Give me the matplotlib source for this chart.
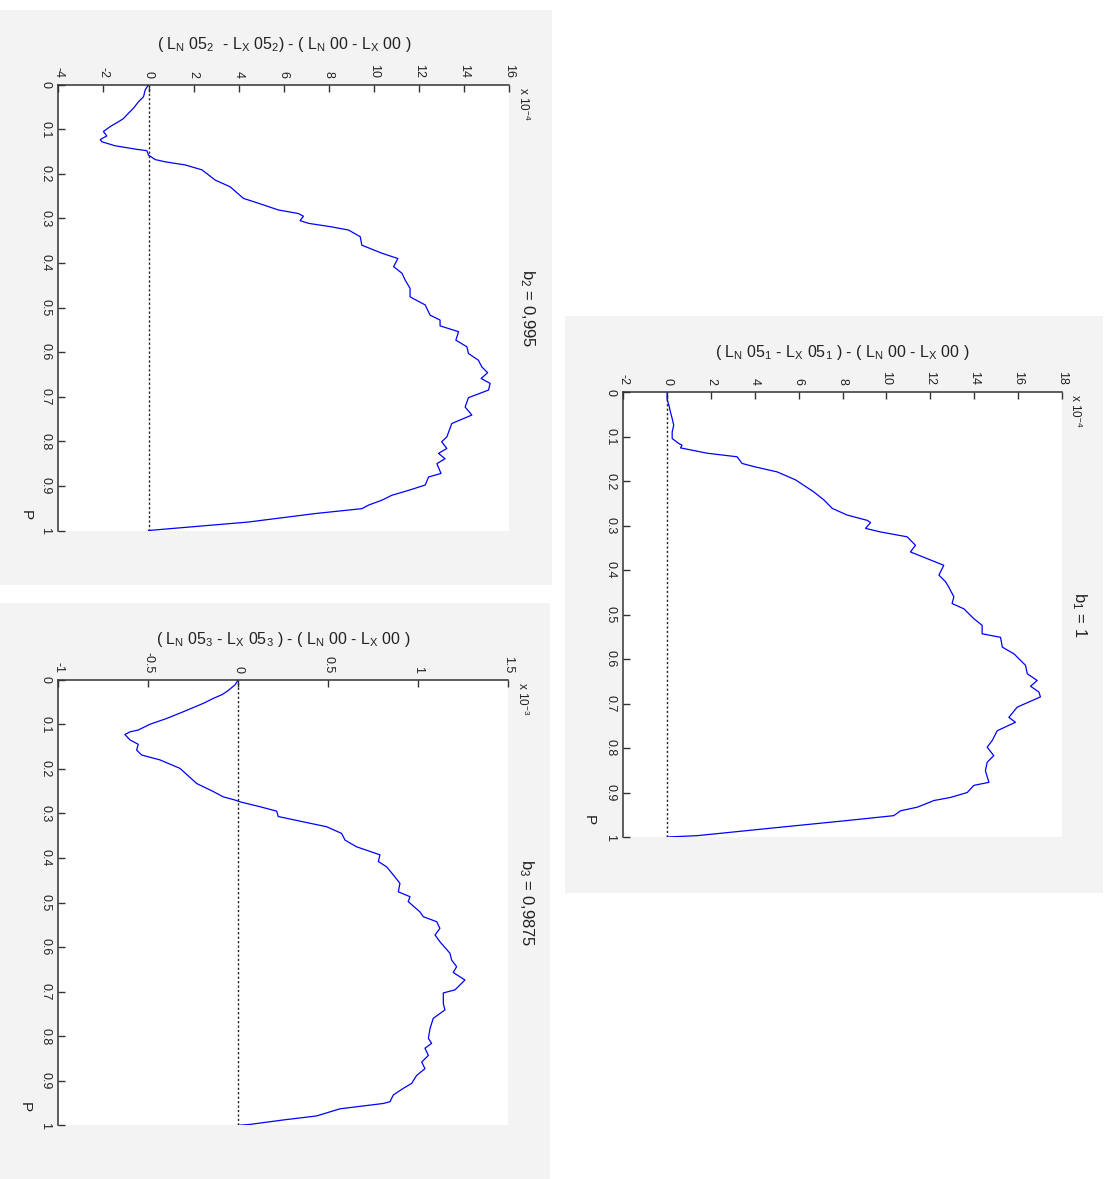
import matplotlib
matplotlib.use("Agg")
import matplotlib.pyplot as plt
from matplotlib.patches import Rectangle

plt.rcParams['font.family'] = ['Liberation Sans', 'DejaVu Sans']
plt.rcParams['axes.unicode_minus'] = False
plt.rcParams['mathtext.fontset'] = 'custom'
plt.rcParams['mathtext.rm'] = 'Liberation Sans'
plt.rcParams['mathtext.it'] = 'Liberation Sans'

# ---- data: P on one axis, score difference on the other ----
# b1 = 1  (values in units of 1e-4)
p_b1 = [0.0, 0.017, 0.029, 0.044, 0.059, 0.074, 0.089, 0.104, 0.115, 0.119, 0.125,
        0.137, 0.145, 0.160, 0.167, 0.179, 0.197, 0.224, 0.242, 0.261, 0.276, 0.288,
        0.293, 0.306, 0.314, 0.325, 0.344, 0.359, 0.374, 0.389, 0.411, 0.426, 0.438,
        0.460, 0.475, 0.487, 0.509, 0.524, 0.543, 0.551, 0.573, 0.588, 0.614, 0.633,
        0.648, 0.661, 0.674, 0.685, 0.708, 0.731, 0.742, 0.761, 0.783, 0.798, 0.817,
        0.832, 0.851, 0.877, 0.884, 0.900, 0.911, 0.918, 0.933, 0.941, 0.952, 0.963,
        0.978, 0.997, 1.0]
d_b1 = [0.0, 0.0, 0.08, 0.15, 0.23, 0.30, 0.23, 0.23, 0.53, 0.68, 0.61,
        1.83, 3.19, 3.42, 3.95, 5.02, 5.86, 6.69, 7.15, 7.53, 8.21, 9.13,
        9.28, 9.05, 9.73, 10.95, 11.33, 11.10, 11.86, 12.62, 12.40, 12.70, 12.85,
        13.08, 13.00, 13.54, 13.99, 14.37, 14.37, 15.21, 15.29, 15.82, 16.35, 16.43,
        16.88, 16.58, 16.96, 17.03, 15.97, 15.59, 15.89, 15.06, 14.83, 14.60, 14.90,
        14.60, 14.52, 14.68, 13.99, 13.69, 12.93, 12.17, 11.41, 10.65, 10.34, 8.21,
        5.17, 1.37, 0.0]

# b2 = 0,995  (values in units of 1e-4)
p_b2 = [0.0, 0.012, 0.027, 0.038, 0.053, 0.064, 0.076, 0.083, 0.094, 0.105, 0.115,
        0.123, 0.128, 0.137, 0.145, 0.148, 0.158, 0.168, 0.173, 0.180, 0.191, 0.214,
        0.229, 0.255, 0.266, 0.281, 0.289, 0.295, 0.305, 0.311, 0.319, 0.326, 0.341,
        0.360, 0.378, 0.390, 0.408, 0.423, 0.438, 0.457, 0.476, 0.494, 0.517, 0.528,
        0.541, 0.554, 0.573, 0.588, 0.603, 0.618, 0.633, 0.646, 0.659, 0.670, 0.685,
        0.702, 0.723, 0.741, 0.760, 0.790, 0.801, 0.816, 0.827, 0.839, 0.850, 0.872,
        0.880, 0.898, 0.910, 0.921, 0.932, 0.943, 0.951, 0.962, 0.981, 1.0]
d_b2 = [0.0, -0.15, -0.22, -0.44, -0.67, -0.89, -1.11, -1.33, -1.70, -2.00, -1.85,
        -2.14, -2.07, -1.48, -0.52, -0.07, 0.0, 0.30, 0.74, 1.63, 2.37, 2.96,
        3.62, 4.21, 4.88, 5.76, 6.65, 6.87, 6.72, 7.10, 8.13, 8.87, 9.39,
        9.46, 10.35, 11.06, 10.87, 11.24, 11.38, 11.60, 11.60, 12.27, 12.49, 12.93,
        12.93, 13.75, 13.63, 14.12, 14.19, 14.63, 14.78, 15.04, 14.75, 15.15, 15.08,
        14.19, 14.04, 14.34, 13.45, 13.23, 13.00, 13.23, 12.86, 13.15, 12.79, 12.97,
        12.42, 12.27, 11.53, 10.79, 10.35, 9.76, 9.46, 7.39, 4.43, 0.0]

# b3 = 0,9875  (values in units of 1e-3)
p_b3 = [0.0, 0.012, 0.027, 0.034, 0.042, 0.053, 0.061, 0.072, 0.087, 0.100, 0.113,
        0.117, 0.123, 0.135, 0.145, 0.158, 0.169, 0.180, 0.199, 0.233, 0.251, 0.263,
        0.270, 0.274, 0.285, 0.295, 0.307, 0.319, 0.330, 0.345, 0.360, 0.375, 0.393,
        0.408, 0.420, 0.438, 0.457, 0.476, 0.487, 0.498, 0.521, 0.532, 0.543, 0.558,
        0.573, 0.588, 0.614, 0.629, 0.644, 0.657, 0.674, 0.696, 0.703, 0.727, 0.741,
        0.760, 0.783, 0.805, 0.816, 0.827, 0.843, 0.858, 0.873, 0.888, 0.906, 0.917,
        0.932, 0.947, 0.951, 0.963, 0.979, 0.988, 0.998, 1.0]
d_b3 = [0.0, -0.019, -0.065, -0.093, -0.139, -0.194, -0.241, -0.306, -0.398, -0.491, -0.556,
        -0.602, -0.630, -0.602, -0.556, -0.565, -0.537, -0.435, -0.324, -0.231, -0.139, -0.083,
        -0.019, 0.009, 0.120, 0.213, 0.222, 0.361, 0.491, 0.574, 0.593, 0.657, 0.787,
        0.778, 0.824, 0.861, 0.898, 0.889, 0.954, 0.944, 1.009, 1.028, 1.102, 1.120,
        1.093, 1.120, 1.176, 1.185, 1.213, 1.194, 1.259, 1.204, 1.139, 1.139, 1.148,
        1.083, 1.065, 1.056, 1.074, 1.037, 1.056, 1.019, 1.037, 0.991, 0.963, 0.917,
        0.861, 0.843, 0.806, 0.565, 0.435, 0.250, 0.065, 0.0]

p_ticks = [0, 0.1, 0.2, 0.3, 0.4, 0.5, 0.6, 0.7, 0.8, 0.9, 1]
p_tick_labels = ['0', '0.1', '0.2', '0.3', '0.4', '0.5', '0.6', '0.7', '0.8', '0.9', '1']
v_ticks_b1 = [-2, 0, 2, 4, 6, 8, 10, 12, 14, 16, 18]
v_ticks_b2 = [-4, -2, 0, 2, 4, 6, 8, 10, 12, 14, 16]
v_ticks_b3 = [-1, -0.5, 0, 0.5, 1, 1.5]
v_tick_labels_b3 = ['-1', '-0.5', '0', '0.5', '1', '1.5']

W, H = 1106, 1179
fig = plt.figure(figsize=(W / 100, H / 100), dpi=100, facecolor='white')


def box(x0, y0, x1, y1):
    fig.add_artist(Rectangle((x0 / W, 1 - y1 / H), (x1 - x0) / W, (y1 - y0) / H,
                             transform=fig.transFigure, facecolor='#f3f3f3',
                             edgecolor='none', zorder=0))


def ftext(x, y, s, **kw):
    fig.text(x / W, 1 - y / H, s, **kw)


def panel(l, t, r, b, p, d, vticks, vlabels, title, ylab, expo, plab):
    ax = fig.add_axes([l / W, 1 - b / H, (r - l) / W, (b - t) / H])
    ax.set_facecolor('white')
    ax.plot(d, p, color='#0000ff', lw=0.9)
    ax.axvline(0, color='#222222', lw=1.0, ls=(0, (1.6, 1.6)))
    ax.set_xlim(vticks[0], vticks[-1])
    ax.set_ylim(1, 0)
    ax.xaxis.tick_top()
    ax.set_xticks(vticks)
    ax.set_xticklabels(vlabels)
    ax.set_yticks(p_ticks)
    ax.set_yticklabels(p_tick_labels)
    ax.tick_params(direction='in', length=5, width=1, color='#333333',
                   labelsize=9, labelcolor='#222222', pad=5)
    ax.tick_params(axis='x', labelrotation=-90)
    ax.tick_params(axis='y', labelrotation=-90)
    for lab in ax.get_yticklabels():
        lab.set_va('center')
    for s in ('right', 'bottom'):
        ax.spines[s].set_visible(False)
    for s in ('top', 'left'):
        ax.spines[s].set_color('#333333')
        ax.spines[s].set_linewidth(1.1)
    cx = (l + r) / 2
    cy = (t + b) / 2
    ftext(cx, t - 40, ylab, ha='center', va='center', fontsize=11.5, color='#222222')
    ftext(r + 18, cy, title, ha='center', va='center', rotation=-90,
          fontsize=12, color='#222222')
    ftext(r + 14, t + 2, expo, ha='center', va='top', rotation=-90,
          fontsize=8.5, color='#222222')
    ftext(plab[0], plab[1], 'P', ha='center', va='center', rotation=-90,
          fontsize=11, color='#222222')
    return ax


box(0, 10, 552, 585)
box(0, 603, 550, 1179)
box(565, 316, 1103, 893)

panel(58.3, 84.7, 509.3, 530.5, p_b2, d_b2, v_ticks_b2, [str(v) for v in v_ticks_b2],
      r'b$_2$ = 0,995',
      r'( L$_\mathregular{N}$ 05$_2$  - L$_\mathregular{X}$ 05$_2$) - ( L$_\mathregular{N}$ 00 - L$_\mathregular{X}$ 00 )',
      r'x 10$^{-4}$', (26, 515))

panel(58.3, 679.7, 508.3, 1125.3, p_b3, d_b3, v_ticks_b3, v_tick_labels_b3,
      r'b$_3$ = 0,9875',
      r'( L$_\mathregular{N}$ 05$_3$ - L$_\mathregular{X}$ 05$_3$ ) - ( L$_\mathregular{N}$ 00 - L$_\mathregular{X}$ 00 )',
      r'x 10$^{-3}$', (25, 1107))

panel(623.3, 392.3, 1061.7, 837.0, p_b1, d_b1, v_ticks_b1, [str(v) for v in v_ticks_b1],
      r'b$_1$ = 1',
      r'( L$_\mathregular{N}$ 05$_1$ - L$_\mathregular{X}$ 05$_1$ ) - ( L$_\mathregular{N}$ 00 - L$_\mathregular{X}$ 00 )',
      r'x 10$^{-4}$', (589, 820))

fig.savefig('out.png', dpi=100, facecolor='white')
